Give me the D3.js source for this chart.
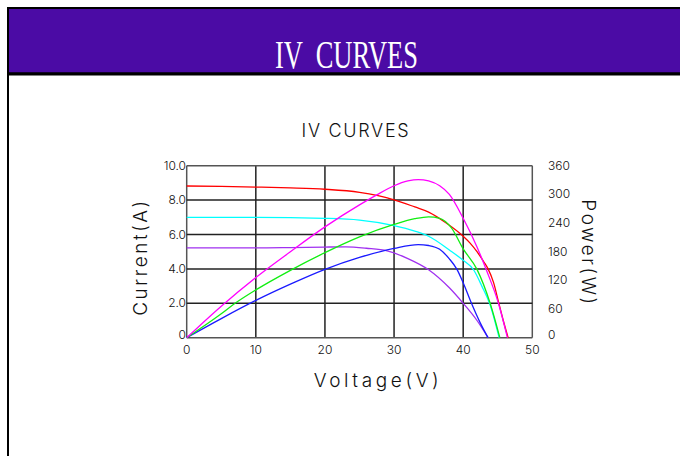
<!DOCTYPE html>
<html>
<head>
<meta charset="utf-8">
<script src="https://cdn.jsdelivr.net/npm/d3@7"></script>
<style>
	body { margin: 0; background: #fff; }
	svg text { font-family: Inter, 'DejaVu Sans', sans-serif; font-weight: 300; fill: #111; }
</style>
</head>
<body>
<div id="chart"></div>
<script>
// voltage ticks and current / power ticks
const voltageTicks = [0, 10, 20, 30, 40, 50];
const currentTicks = [0, 2, 4, 6, 8, 10];
const powerTicks = [0, 60, 120, 180, 240, 300, 360];

// IV curves: [voltage, current]
const ivRed = [[0,8.82],[5,8.8],[10,8.76],[15,8.71],[20,8.63],[25,8.45],[30,8.02],[33,7.6],[35,7.3],[37.6,6.65],[40,5.9],[41,5.5],[42,5.0],[43,4.4],[43.6,4.0],[44.4,3.2],[45.1,2.1],[45.8,1.0],[46.5,0]];
const ivCyan = [[0,7.0],[10,7.0],[20,6.94],[25,6.84],[30,6.52],[33,6.2],[35,5.9],[38,5.1],[40,4.5],[41.5,3.95],[42.7,3.0],[43.9,1.9],[45.2,0]];
const ivPurple = [[0,5.22],[10,5.22],[15,5.24],[20,5.27],[23,5.28],[26,5.2],[29,5.05],[32,4.6],[35,3.95],[38,2.9],[40,2.0],[42,1.0],[43.6,0]];

// power curves: [voltage, watts]
const pMagenta = [[0,0],[5,66],[10,126],[15,180],[20,232],[25,278],[27.5,299],[30,318],[32,328],[33.5,331],[35,328],[36.6,318],[38,300],[40,250],[42,190],[43.4,140],[45.1,72],[46.4,0]];
const pGreen = [[0,0],[5,50],[7,72],[10,100],[15,141],[20,178],[25,211],[30,237],[33,249],[35,253],[36.6,250],[38.3,230],[40,186],[42,143],[43.9,72],[45.3,0]];
const pBlue = [[0,0],[5,40],[10,78],[15,112],[20,143],[25,168],[30,187],[33.5,195],[35,193],[36.6,185],[38,165],[39.1,143],[40,115],[41.2,72],[42.5,30],[43.6,0]];

const W = 680, H = 456;

let svg = d3.select('#chart')
	.append('svg')
	.attr('width', W)
	.attr('height', H);

// header band
svg.append('rect')
	.attr('x', 8).attr('y', 8)
	.attr('width', W).attr('height', 65.5)
	.attr('fill', '#4b0ba5')
	.attr('stroke', '#000')
	.attr('stroke-width', 2);

svg.append('line')
	.attr('x1', 8).attr('x2', W)
	.attr('y1', 74).attr('y2', 74)
	.attr('stroke', '#000').attr('stroke-width', 3);

svg.append('line')
	.attr('x1', 8).attr('x2', 8)
	.attr('y1', 74).attr('y2', H)
	.attr('stroke', '#000').attr('stroke-width', 2);

svg.append('text')
	.attr('x', 346.5).attr('y', 68)
	.attr('text-anchor', 'middle')
	.attr('textLength', 143)
	.attr('lengthAdjust', 'spacingAndGlyphs')
	.attr('xml:space', 'preserve')
	.style('font-family', "'Liberation Serif', serif")
	.style('font-weight', 400)
	.style('font-size', '40px')
	.style('fill', '#fff')
	.text('IV  CURVES');

// plot
let x = d3.scaleLinear().domain([0, 50]).range([186.7, 532.3]);
let yI = d3.scaleLinear().domain([0, 10]).range([337.7, 165.7]);
let yP = d3.scaleLinear().domain([0, 360]).range([337.7, 165.7]);

svg.append('text')
	.attr('x', 356).attr('y', 137)
	.attr('text-anchor', 'middle')
	.style('font-size', '18px')
	.style('letter-spacing', '1.7px')
	.text('IV CURVES');

let grid = svg.append('g').attr('class', 'grid');

grid.selectAll('line.v')
	.data(voltageTicks)
	.enter().append('line')
	.attr('class', 'v')
	.attr('x1', d => x(d)).attr('x2', d => x(d))
	.attr('y1', yI(0)).attr('y2', yI(10))
	.attr('stroke', d => (d === 0 || d === 50) ? '#555' : '#222')
	.attr('stroke-width', 1.5);

grid.selectAll('line.h')
	.data(currentTicks)
	.enter().append('line')
	.attr('class', 'h')
	.attr('x1', x(0)).attr('x2', x(50))
	.attr('y1', d => yI(d)).attr('y2', d => yI(d))
	.attr('stroke', d => (d === 0 || d === 10) ? '#555' : '#222')
	.attr('stroke-width', 1.5);

// axis labels
svg.append('g').selectAll('text')
	.data(voltageTicks)
	.enter().append('text')
	.attr('x', d => x(d)).attr('y', 354)
	.attr('text-anchor', 'middle')
	.style('font-size', '12px')
	.text(d => d);

svg.append('g').selectAll('text')
	.data(currentTicks)
	.enter().append('text')
	.attr('x', 186).attr('y', d => yI(d) + (d === 0 ? 1 : 4))
	.attr('text-anchor', 'end')
	.style('font-size', '12px')
	.text(d => d === 0 ? '0' : d.toFixed(1));

svg.append('g').selectAll('text')
	.data(powerTicks)
	.enter().append('text')
	.attr('x', 548).attr('y', d => yP(d) + (d === 0 ? 1 : 4))
	.attr('text-anchor', 'start')
	.style('font-size', '12px')
	.text(d => d);

svg.append('text')
	.attr('x', 378).attr('y', 387)
	.attr('text-anchor', 'middle')
	.style('font-size', '19px')
	.style('letter-spacing', '3.6px')
	.text('Voltage(V)');

svg.append('text')
	.attr('transform', 'translate(147,257) rotate(-90)')
	.attr('text-anchor', 'middle')
	.style('font-size', '19px')
	.style('letter-spacing', '2.5px')
	.text('Current(A)');

svg.append('text')
	.attr('transform', 'translate(582,253) rotate(90)')
	.attr('text-anchor', 'middle')
	.style('font-size', '19px')
	.style('letter-spacing', '2.5px')
	.text('Power(W)');

// curves
let lineI = d3.line()
	.x(d => x(d[0]))
	.y(d => yI(d[1]))
	.curve(d3.curveMonotoneX);

let lineP = d3.line()
	.x(d => x(d[0]))
	.y(d => yP(d[1]))
	.curve(d3.curveMonotoneX);

let curves = svg.append('g').attr('fill', 'none').attr('stroke-width', 1.3);

[[ivPurple, '#a030f0'], [ivCyan, '#00ffff'], [ivRed, '#ff0000']].forEach(function(c) {
	curves.append('path').datum(c[0]).attr('stroke', c[1]).attr('d', lineI);
});

[[pBlue, '#1a1aff'], [pGreen, '#11ee11'], [pMagenta, '#ff00ff']].forEach(function(c) {
	curves.append('path').datum(c[0]).attr('stroke', c[1]).attr('d', lineP);
});
</script>
</body>
</html>
